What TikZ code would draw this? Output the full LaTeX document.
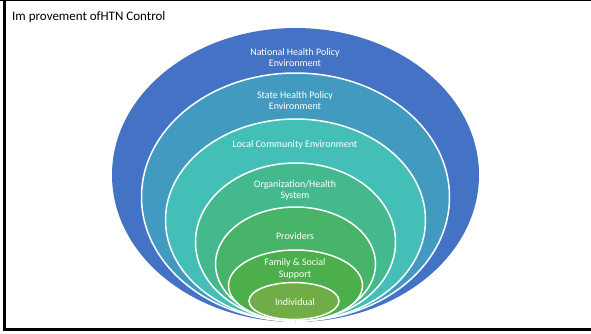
\documentclass[tikz,border=0pt]{standalone}
\usepackage{fontspec}
\setmainfont{Carlito}
\usetikzlibrary{calc}
\definecolor{lvlA}{RGB}{68,114,196}
\definecolor{lvlB}{RGB}{67,154,192}
\definecolor{lvlC}{RGB}{68,191,184}
\definecolor{lvlD}{RGB}{69,185,142}
\definecolor{lvlE}{RGB}{71,180,106}
\definecolor{lvlF}{RGB}{77,174,76}
\definecolor{lvlG}{RGB}{112,173,71}
\def\layer[#1](#2,#3)(#4:#5){\draw[draw=white, line width=1.5pt, fill=#1] (#2,#3) ellipse ({#4} and {#5});}
\tikzset{lbl/.style={text=white, font=\fontsize{10}{11.5}\selectfont, align=center, inner sep=0pt}}

\begin{document}
\begin{tikzpicture}[x=1pt, y=-1pt]
			%%%%% START %%%%%
			\useasboundingbox (0, 0) rectangle (591, 333);
			
			\fill[lvlA] (295.5, 175) ellipse (183.5 and 147);
			\layer[lvlB](295.5, 197)(154:124);
			\layer[lvlC](295.5, 220)(130:101);
			\layer[lvlD](295.5, 242)(100:79);
			\layer[lvlE](295.5, 264)(80:57);
			\layer[lvlF](295.5, 285.5)(67:35.5);
			\layer[lvlG](294, 301)(45:18.5);
			
			\node[lbl] (national) at (295, 57.5) {National Health Policy\\Environment};
			\node[lbl] (state) at (295, 100.5) {State Health Policy\\Environment};
			\node[lbl] (local) at (295, 145) {Local Community Environment};
			\node[lbl] (organization) at (295, 190.5) {Organization/Health\\System};
			\node[lbl] (providers) at (295, 236) {Providers};
			\node[lbl] (family) at (295, 269) {Family \& Social\\Support};
			\node[lbl] (individual) at (295, 302) {Individual};
			
			\node[anchor=base west, inner sep=0pt, font=\fontsize{13}{15}\selectfont] (title) at (12, 20) {Im provement ofHTN Control};
			
			\draw[line width=1pt] (0, 0.5) -- (591, 0.5);
			\draw[line width=3.5pt] (4.5, 0) -- (4.5, 331);
			\draw[line width=3pt] (3, 329.5) -- (591, 329.5);
			
			%%%%% END %%%%%
		\end{tikzpicture}
\end{document}
